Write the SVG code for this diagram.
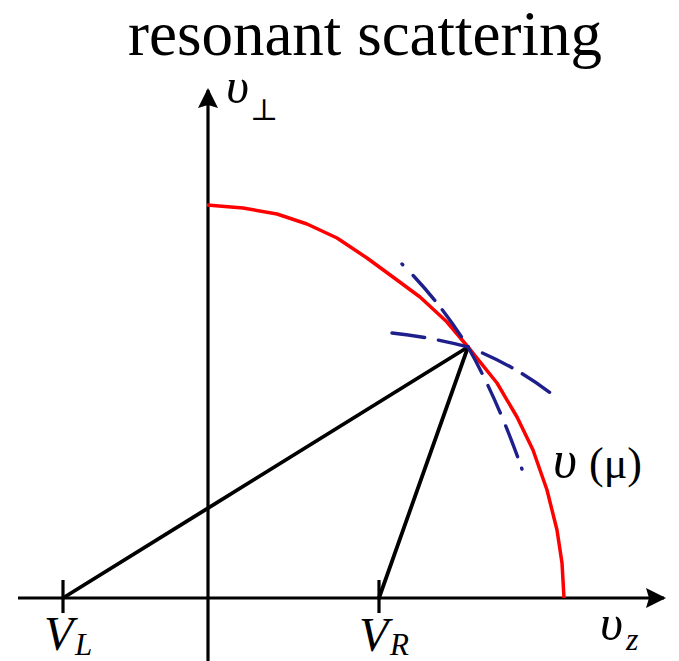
<svg xmlns="http://www.w3.org/2000/svg" width="679" height="661" viewBox="0 0 679 661">
<style>
.ax{stroke:#000;stroke-width:3.2;fill:none}
.blk{stroke:#000;stroke-width:3.8;fill:none;stroke-linecap:round}
.red{stroke:#ff0000;stroke-width:3.5;fill:none;stroke-linejoin:round}
.blue{stroke:#1f1f8c;stroke-width:3.4;fill:none;stroke-linecap:round}
.i{font-style:italic}
</style>
<defs>
<marker id="arr" viewBox="0 0 20 20" refX="18" refY="10" markerWidth="20" markerHeight="20" markerUnits="userSpaceOnUse" orient="auto">
<path d="M0,0 L20,10 L0,20 L3,10 Z" fill="#000"/>
</marker>
</defs>
<rect width="679" height="661" fill="#fff"/>
<g id="title" font-family="'Liberation Serif', 'DejaVu Serif', serif" fill="#000"><text x="365" y="55" font-size="63" text-anchor="middle">resonant scattering</text></g>
<g id="axes">
<line class="ax" x1="18" y1="598" x2="664" y2="598" marker-end="url(#arr)"/>
<line class="ax" x1="208" y1="661" x2="208" y2="90" marker-end="url(#arr)"/>
<line class="ax" x1="63" y1="580" x2="63" y2="613"/>
<line class="ax" x1="379" y1="580" x2="379" y2="613"/>
</g>
<g id="curve">
<polyline class="red" points="207,205 243,208 277,214 307,224 337,238 367,258 397,280 420,297 447,322 468,347 497,383 517,417 533,450 547,490 557,530 562,563 564,598"/>
</g>
<g id="connectors">
<line class="blk" x1="63" y1="598" x2="468" y2="347"/>
<line class="blk" x1="379" y1="598" x2="468" y2="347"/>
<path class="blue" stroke-dasharray="1 15 33 12 33 12 30 14 30 14 33 12" d="M402,264 Q440,302 468,347 Q498,400 523,472"/>
<path class="blue" stroke-dasharray="33 14 30 16 33 12 33 12" d="M392,333 Q430,337 468,347 Q515,365 557,398"/>
</g>
<g id="labels" font-family="'Liberation Serif', 'DejaVu Serif', serif" fill="#000">
<text x="226" y="103"><tspan class="i" font-size="50">υ</tspan><tspan x="250" y="120" font-size="30">⊥</tspan></text>
<text x="44" y="650"><tspan class="i" font-size="48">V</tspan><tspan class="i" x="75" y="655" font-size="31">L</tspan></text>
<text x="359" y="651"><tspan class="i" font-size="48">V</tspan><tspan class="i" x="390" y="655" font-size="31">R</tspan></text>
<text x="600" y="640"><tspan class="i" font-size="50">υ</tspan><tspan class="i" x="626" y="650" font-size="32">z</tspan></text>
<text x="553" y="477"><tspan class="i" font-size="52">υ</tspan><tspan x="589" y="478" font-size="44">(μ)</tspan></text>
</g>
</svg>
